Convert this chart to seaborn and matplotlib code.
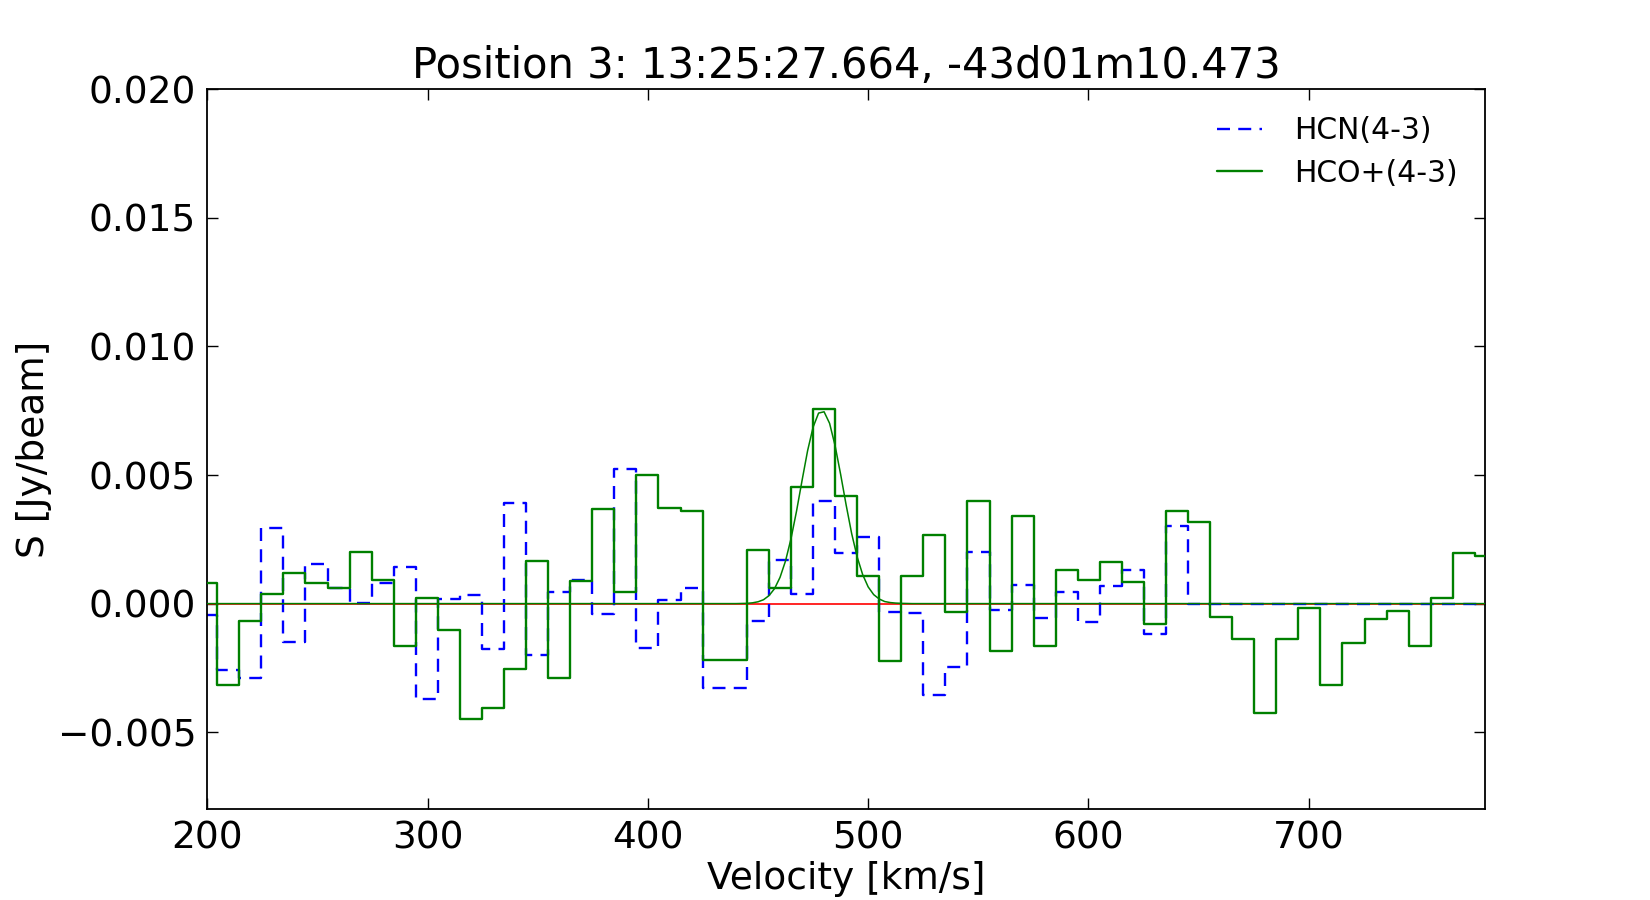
# Spectrum at position 3: HCN(4-3) and HCO+(4-3) with Gaussian fit
import numpy as np
import pandas as pd
import seaborn as sns
import matplotlib
matplotlib.use("Agg")
import matplotlib.pyplot as plt


# Channel centres [km/s]
VELOCITY = [199.5, 209.5, 219.5, 229.5, 239.6, 249.6, 259.6, 269.6, 279.6,
            289.6, 299.7, 309.7, 319.7, 329.7, 339.7, 349.7, 359.8, 369.8,
            379.8, 389.8, 399.8, 409.8, 419.9, 429.9, 439.9, 449.9, 459.9,
            469.9, 480.0, 490.0, 500.0, 510.0, 520.0, 530.0, 540.0, 550.1,
            560.1, 570.1, 580.1, 590.1, 600.1, 610.2, 620.2, 630.2, 640.2,
            650.2, 660.2, 670.3, 680.3, 690.3, 700.3, 710.3, 720.3, 730.4,
            740.4, 750.4, 760.4, 770.4, 780.4]

# Flux densities [mJy/beam]
HCN = [-0.45, -2.60, -2.89, 2.94, -1.49, 1.55, 0.60, 0.02, 0.79,
       1.42, -3.72, 0.19, 0.32, -1.77, 3.93, -2.00, 0.44, 0.91,
       -0.39, 5.23, -1.72, 0.13, 0.61, -3.30, -3.30, -0.67, 1.71,
       0.39, 3.98, 1.97, 2.59, -0.32, -0.36, -3.56, -2.46, 2.01,
       -0.26, 0.71, -0.56, 0.45, -0.71, 0.67, 1.30, -1.20, 3.01,
       0.0, 0.0, 0.0, 0.0, 0.0, 0.0, 0.0, 0.0, 0.0,
       0.0, 0.0, 0.0, 0.0, 0.0]
HCOP = [0.82, -3.15, -0.67, 0.38, 1.19, 0.80, 0.61, 2.02, 0.91,
        -1.65, 0.22, -1.04, -4.47, -4.05, -2.55, 1.66, -2.88, 0.87,
        3.69, 0.45, 4.99, 3.72, 3.60, -2.20, -2.20, 2.07, 0.61,
        4.53, 7.55, 4.18, 1.06, -2.24, 1.08, 2.66, -0.32, 3.98,
        -1.85, 3.41, -1.65, 1.32, 0.91, 1.62, 0.84, -0.80, 3.59,
        3.17, -0.54, -1.39, -4.27, -1.36, -0.19, -3.15, -1.53, -0.58,
        -0.30, -1.65, 0.22, 1.98, 1.84]

# Gaussian fit to HCO+
FIT_V = [200, 440, 445, 447.5, 450, 452.5, 455, 457.5, 460, 462.5, 465,
         467.5, 470, 472.5, 475, 477.5, 480, 482.5, 485, 487.5, 490, 492.5,
         495, 497.5, 500, 502.5, 505, 507.5, 510, 512.5, 515, 520, 780]
FIT_S = [0.0, 0.0, 0.01, 0.03, 0.07, 0.15, 0.31, 0.58, 1.02, 1.66, 2.53,
         3.60, 4.79, 5.94, 6.86, 7.41, 7.46, 7.01, 6.14, 5.03, 3.84, 2.73,
         1.82, 1.13, 0.65, 0.35, 0.18, 0.08, 0.04, 0.02, 0.01, 0.0, 0.0]
BASELINE = 0.0

TITLE = "Position 3: 13:25:27.664, -43d01m10.473"

df = pd.DataFrame({"v": VELOCITY,
                   "hcn": np.array(HCN) * 1e-3,
                   "hcop": np.array(HCOP) * 1e-3})
fit = pd.DataFrame({"v": FIT_V, "s": np.array(FIT_S) * 1e-3})

BLUE, GREEN, RED = "#0000ff", "#008000", "#ff0000"


# Plot
sns.set_theme(style="white", color_codes=False)
plt.rcParams["font.family"] = ["DejaVu Sans"]
plt.rcParams["text.color"] = "k"
plt.rcParams["axes.labelcolor"] = "k"
fig, ax = plt.subplots(figsize=(16.5, 9), dpi=100)
fig.subplots_adjust(left=0.1256, right=0.9, top=0.9007, bottom=0.1008)

ax.axhline(BASELINE, color=RED, linewidth=1.2, zorder=1)
sns.lineplot(data=df, x="v", y="hcn", drawstyle="steps-mid", color=BLUE,
             linewidth=1.7, linestyle=(0, (5.5, 3.5)), label="HCN(4-3)",
             ax=ax, zorder=2)
sns.lineplot(data=fit, x="v", y="s", color=GREEN, linewidth=1.1,
             label="_fit", ax=ax, zorder=3)
sns.lineplot(data=df, x="v", y="hcop", drawstyle="steps-mid", color=GREEN,
             linewidth=1.7, label="HCO+(4-3)", ax=ax, zorder=4)

ax.set_xlim(200, 780)
ax.set_ylim(-0.008, 0.020)
ax.set_xticks([200, 300, 400, 500, 600, 700])
ax.set_yticks([-0.005, 0.0, 0.005, 0.010, 0.015, 0.020])
ax.set_yticklabels(["\u22120.005", "0.000", "0.005", "0.010", "0.015",
                    "0.020"])
ax.tick_params(direction="in", length=8, width=1, colors="k",
               top=True, right=True, bottom=True, left=True, labelsize=27,
               pad=8)
for sp in ax.spines.values():
    sp.set_color("k")
    sp.set_linewidth(1.3)

ax.set_title(TITLE, fontsize=30, pad=8)
ax.set_xlabel("Velocity [km/s]", fontsize=27, labelpad=3)
ax.set_ylabel("S [Jy/beam]", fontsize=27, labelpad=4)

ax.legend(loc="upper right", frameon=False, fontsize=21.5, handlelength=1.5,
          handletextpad=1.1, labelspacing=0.45, borderaxespad=0.5)

fig.savefig("out.png", dpi=100)
